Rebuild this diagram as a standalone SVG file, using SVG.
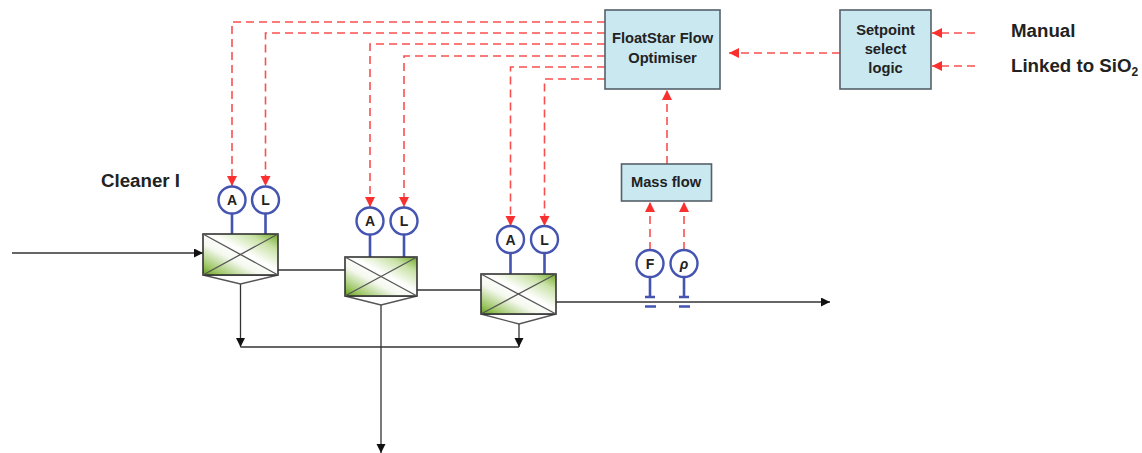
<svg xmlns="http://www.w3.org/2000/svg" width="1142" height="453" viewBox="0 0 1142 453">
<style>
text{font-family:"Liberation Sans",Arial,sans-serif;font-weight:bold;fill:#222}
.box{fill:#c9e8f0;stroke:#55606a;stroke-width:1.6}
.bt{font-size:14.700px;text-anchor:middle}
.lab{font-size:18.700px}
.cell{fill:url(#g);stroke:#333;stroke-width:1.600}
.hop{fill:#fff;stroke:#555;stroke-width:1.400}
.x{stroke:#555;stroke-width:1.300;fill:none}
.ins{fill:#fff;stroke:#4454b0;stroke-width:2.400}
.stem{stroke:#4454b0;stroke-width:2.600;fill:none}
.it{font-size:14px;text-anchor:middle}
.r{fill:none;stroke:#f9504f;stroke-width:1.600;stroke-dasharray:8 5;marker-end:url(#ra)}
.k{fill:none;stroke:#333;stroke-width:1.300}
.ka{marker-end:url(#ka)}
</style>
<defs>
<linearGradient id="g" x1="0" y1="1" x2="1" y2="0">
<stop offset="0" stop-color="#5f9c18"/><stop offset="0.12" stop-color="#98c45e"/><stop offset="0.38" stop-color="#f4f8ee"/><stop offset="0.55" stop-color="#fff"/><stop offset="0.8" stop-color="#c9e2a6"/><stop offset="1" stop-color="#6fa828"/>
</linearGradient>
<marker id="ra" markerUnits="userSpaceOnUse" markerWidth="12" markerHeight="12" refX="10" refY="5" orient="auto"><path d="M0 0L10 5L0 10Z" fill="#f9302f"/></marker>
<marker id="ka" markerUnits="userSpaceOnUse" markerWidth="12" markerHeight="12" refX="9" refY="4.500" orient="auto"><path d="M0 0L9 4.500L0 9Z" fill="#111"/></marker>
</defs>
<g id="connectors">
<path class="r" d="M605 22H232V186"/>
<path class="r" d="M605 33H265.5V186"/>
<path class="r" d="M605 44H370V207"/>
<path class="r" d="M605 56H404V207"/>
<path class="r" d="M605 67H510.500V226"/>
<path class="r" d="M605 79H544.500V226"/>
<path class="r" d="M840 53H729"/>
<path class="r" d="M975 33H932"/>
<path class="r" d="M975 66H932"/>
<path class="r" d="M667 164V90"/>
<path class="r" d="M650 250V202"/>
<path class="r" d="M684 250V202"/>
<path class="k ka" d="M12 253H203"/>
<path class="k" d="M278 270H345"/>
<path class="k" d="M417 290H481"/>
<path class="k ka" d="M556 302H830"/>
<path class="k ka" d="M240.500 284V347"/>
<path class="k" d="M240.500 347H519"/>
<path class="k ka" d="M519 324V347"/>
<path class="k ka" d="M381 305V453"/>
<path class="stem" d="M232 213V234M265.500 213V234M370 234V257M404 234V257M510.500 253V274M544.500 253V274M650 277V297M645 297H655M645 306.500H656M684 277V297M679 297H689M679 306.500H690"/>
</g>
<g id="optimiser"><rect class="box" x="605" y="10" width="115" height="79"/><text class="bt" x="662.500" y="43">FloatStar Flow</text><text class="bt" x="662.500" y="63">Optimiser</text></g>
<g id="setpoint"><rect class="box" x="840" y="10" width="91" height="79"/><text class="bt" x="885.500" y="35">Setpoint</text><text class="bt" x="885.500" y="54">select</text><text class="bt" x="885.500" y="73">logic</text></g>
<g id="massflow"><rect class="box" x="621.500" y="164" width="90" height="37"/><text class="bt" x="666" y="187">Mass flow</text></g>
<g id="cell1"><path class="hop" d="M203 275L240.500 284L278 275Z"/><rect class="cell" x="203" y="234" width="75" height="41"/><path class="x" d="M203 234L278 275M203 275L278 234"/></g>
<g id="cell2"><path class="hop" d="M345 296L381 305L417 296Z"/><rect class="cell" x="345" y="257" width="72" height="39"/><path class="x" d="M345 257L417 296M345 296L417 257"/></g>
<g id="cell3"><path class="hop" d="M481 314L519 324L556 314Z"/><rect class="cell" x="481" y="274" width="75" height="40"/><path class="x" d="M481 274L556 314M481 314L556 274"/></g>
<g id="a1"><circle class="ins" cx="232" cy="200" r="13.500"/><text class="it" x="232" y="205">A</text></g>
<g id="l1"><circle class="ins" cx="265.500" cy="200" r="13.500"/><text class="it" x="265.500" y="205">L</text></g>
<g id="a2"><circle class="ins" cx="370" cy="221" r="13.500"/><text class="it" x="370" y="226">A</text></g>
<g id="l2"><circle class="ins" cx="404" cy="221" r="13.500"/><text class="it" x="404" y="226">L</text></g>
<g id="a3"><circle class="ins" cx="510.500" cy="239.500" r="13.500"/><text class="it" x="510.500" y="244.500">A</text></g>
<g id="l3"><circle class="ins" cx="544.500" cy="239.500" r="13.500"/><text class="it" x="544.500" y="244.500">L</text></g>
<g id="f"><circle class="ins" cx="650" cy="263.500" r="13.500"/><text class="it" x="650" y="268.500">F</text></g>
<g id="rho"><circle class="ins" cx="684" cy="263.500" r="13.500"/><text class="it" x="684" y="268.500" font-style="italic">ρ</text></g>
<text class="lab" x="101" y="187">Cleaner I</text>
<text class="lab" x="1011" y="37">Manual</text>
<text class="lab" x="1011" y="72">Linked to SiO<tspan font-size="12" dy="4">2</tspan></text>
</svg>
